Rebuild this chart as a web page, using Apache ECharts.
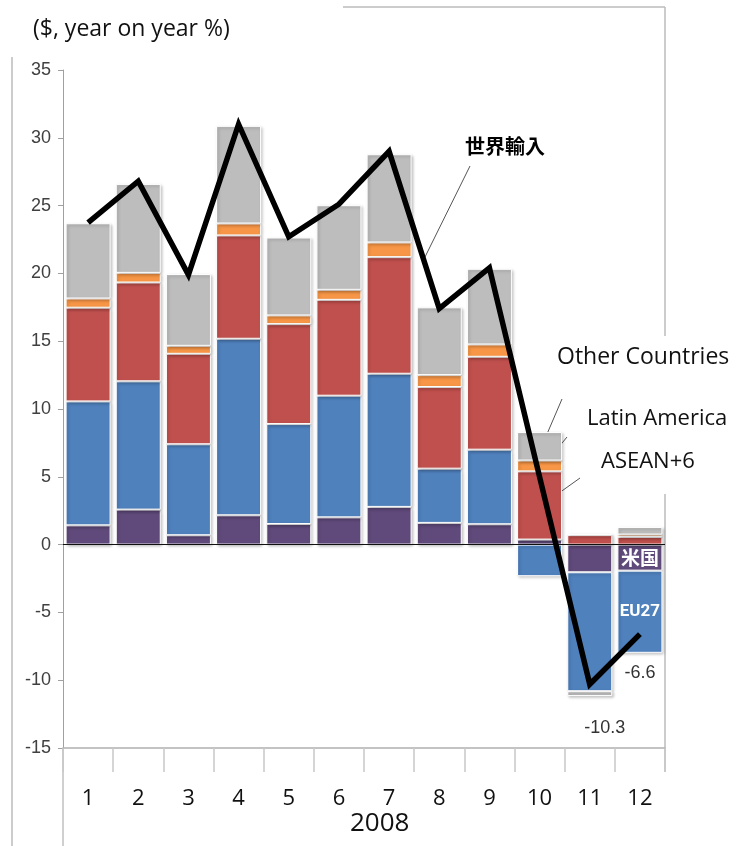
<!DOCTYPE html>
<html><head><meta charset="utf-8">
<script src="https://cdn.jsdelivr.net/npm/echarts@6/dist/echarts.min.js"></script>
<style>html,body{margin:0;padding:0;background:#fff}#c{width:736px;height:846px}</style>
</head><body><div id="c"></div>
<script>
const categories = ['1','2','3','4','5','6','7','8','9','10','11','12'];
const usa = [1.42, 2.58, 0.69, 2.16, 1.52, 2.01, 2.78, 1.6, 1.5, 0.37, -2.04, -1.92];
const eu27 = [9.14, 9.46, 6.71, 13.02, 7.37, 8.97, 9.82, 4.0, 5.5, -2.33, -8.77, -6.06];
const asean6 = [6.91, 7.29, 6.67, 7.62, 7.37, 7.07, 8.6, 6.02, 6.85, 5.03, 0.7, 0.56];
const latinAmerica = [0.68, 0.71, 0.59, 0.88, 0.64, 0.74, 1.08, 0.88, 0.91, 0.8, 0.1, 0.18];
const otherCountries = [5.55, 6.56, 5.29, 7.2, 5.75, 6.24, 6.51, 5.0, 5.58, 2.1, -0.36, 0.56];
const worldImports = [23.75, 26.8, 19.9, 31.0, 22.7, 25.1, 29.0, 17.4, 20.4, 5.0, -10.3, -6.6];
const yTicks = {min: -15, max: 35, interval: 5};

const chart = echarts.init(document.getElementById('c'));
const barBase = {
  type: 'bar', stack: 'total', barWidth: 45,
  itemStyle: {borderColor: '#fff', borderWidth: 1, shadowBlur: 3, shadowColor: 'rgba(0,0,0,0.25)', shadowOffsetX: 1.5, shadowOffsetY: 1.5}
};
function mk(name, data, color, extra) {
  return Object.assign({}, barBase, {name, data, itemStyle: Object.assign({}, barBase.itemStyle, {color})}, extra || {});
}
const inLabel = (txt) => ({show: true, position: 'inside', formatter: txt, color: '#fff', fontWeight: 'bold', fontSize: 19, fontFamily: 'Noto Sans CJK JP'});
const usaData = usa.map((v, i) => i === 11 ? {value: v, label: inLabel('米国')} : v);
const euData = eu27.map((v, i) => i === 11 ? {value: v, label: Object.assign(inLabel('EU27'), {fontFamily: 'Roboto', fontSize: 17})} : v);
const lineData = worldImports.map((v, i) => {
  if (i === 10) return {value: v, label: {show: true, position: 'bottom', distance: 35, offset: [15, 0]}};
  if (i === 11) return {value: v, label: {show: true, position: 'bottom', distance: 30}};
  return v;
});

const gray = '#bdbdbd';
const txtFont = 'Open Sans';
const option = {
  animation: false,
  grid: {left: 63, right: 71, top: 70, bottom: 98},
  xAxis: {
    type: 'category', data: categories,
    axisLine: {onZero: false, lineStyle: {color: '#b0b0b0', width: 1.5}},
    axisTick: {show: true, length: 24, lineStyle: {color: '#c8c8c8', width: 1.5}},
    axisLabel: {margin: 40, fontSize: 22, color: '#111', fontFamily: txtFont}
  },
  yAxis: {
    type: 'value', min: yTicks.min, max: yTicks.max, interval: yTicks.interval,
    axisLine: {show: true, lineStyle: {color: '#a0a0a0'}},
    axisTick: {show: true, length: 5, lineStyle: {color: '#a0a0a0'}},
    splitLine: {show: false},
    axisLabel: {margin: 12, fontSize: 18, color: '#404040', fontFamily: 'Liberation Sans Narrow, sans-serif'}
  },
  series: [
    mk('米国', usaData, '#604a7b', {markLine: {silent: true, symbol: 'none', label: {show: false}, lineStyle: {color: '#111', width: 1.2, type: 'solid'}, data: [{yAxis: 0}], z: 5}}),
    mk('EU27', euData, '#4f81bd'),
    mk('ASEAN+6', asean6, '#c0504d'),
    mk('Latin America', latinAmerica, '#f79646'),
    mk('Other Countries', otherCountries, gray),
    {type: 'line', name: '世界輸入', data: lineData, showSymbol: true, symbol: 'circle', symbolSize: 0, z: 10,
      itemStyle: {color: '#000'},
      lineStyle: {color: '#000', width: 5.5, join: 'miter'},
      label: {color: '#333', fontSize: 18, fontFamily: 'Liberation Sans Narrow, sans-serif'}}
  ],
  graphic: [
    {type: 'line', shape: {x1: 343, y1: 7, x2: 665, y2: 7}, style: {stroke: '#bbb', lineWidth: 1.5}},
    {type: 'line', shape: {x1: 665, y1: 7, x2: 665, y2: 336}, style: {stroke: '#bbb', lineWidth: 1.5}},
    {type: 'line', shape: {x1: 665, y1: 494, x2: 665, y2: 772}, style: {stroke: '#bbb', lineWidth: 1.5}},
    {type: 'line', shape: {x1: 12, y1: 57, x2: 12, y2: 846}, style: {stroke: '#bbb', lineWidth: 1.5}},
    {type: 'line', shape: {x1: 63, y1: 748, x2: 63, y2: 846}, style: {stroke: '#a0a0a0', lineWidth: 1}},
    {type: 'text', left: 33, top: 18, style: {text: '($, year on year %)', fontSize: 23, fill: '#111', fontFamily: txtFont}},
    {type: 'text', left: 465, top: 136, style: {text: '世界輸入', fontSize: 20, fontWeight: 'bold', fill: '#000', fontFamily: 'Noto Sans CJK JP'}},
    {type: 'line', shape: {x1: 470, y1: 166, x2: 425, y2: 257}, style: {stroke: '#555', lineWidth: 1}},
    {type: 'text', left: 557, top: 346, style: {text: 'Other Countries', fontSize: 23, fill: '#111', fontFamily: txtFont}},
    {type: 'line', shape: {x1: 562, y1: 399, x2: 547, y2: 434}, style: {stroke: '#555', lineWidth: 1}},
    {type: 'text', left: 587, top: 408, style: {text: 'Latin America', fontSize: 22, fill: '#111', fontFamily: txtFont}},
    {type: 'line', shape: {x1: 567, y1: 437, x2: 549, y2: 459}, style: {stroke: '#555', lineWidth: 1}},
    {type: 'text', left: 601, top: 451, style: {text: 'ASEAN+6', fontSize: 22, fill: '#111', fontFamily: txtFont}},
    {type: 'line', shape: {x1: 580, y1: 478, x2: 552, y2: 498}, style: {stroke: '#555', lineWidth: 1}},
    {type: 'text', left: 350, top: 811, style: {text: '2008', fontSize: 26, fill: '#111', fontFamily: txtFont}}
  ]
};
chart.setOption(option);
</script></body></html>
